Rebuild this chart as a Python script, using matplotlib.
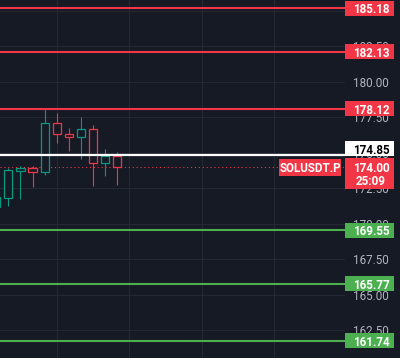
import matplotlib
matplotlib.use('Agg')
import matplotlib.pyplot as plt
from matplotlib.patches import Rectangle
from matplotlib.transforms import blended_transform_factory
from matplotlib.ticker import FormatStrFormatter

plt.rcParams['font.family'] = ['Roboto', 'DejaVu Sans']

# candles, oldest first
opens  = [171.18, 171.83, 173.74, 173.93, 173.62, 177.08, 176.32, 176.09, 176.65, 174.26, 174.77]
highs  = [171.95, 173.95, 174.07, 174.07, 178.13, 177.82, 176.72, 177.54, 176.96, 175.26, 175.07]
lows   = [171.05, 171.25, 171.72, 172.61, 173.43, 175.67, 175.14, 174.56, 172.66, 173.38, 172.73]
closes = [171.88, 173.78, 173.91, 173.62, 177.08, 176.30, 176.09, 176.65, 174.26, 174.77, 174.00]

resistance = [185.18, 182.13, 178.12]
support = [169.55, 165.77, 161.74]
mark_price = 174.85
last_price = 174.00
symbol = 'SOLUSDT.P'
countdown = '25:09'
price_ticks = [162.5, 165.0, 167.5, 170.0, 172.5, 175.0, 177.5, 180.0, 182.5, 185.0]
time_grid = [5, 11, 17, 23]

BG = '#161a25'
GRID = '#242833'
UP = '#089981'
DN = '#f23645'
RED = '#f23645'
GREEN = '#4caf50'

W, H = 400, 358
fig = plt.figure(figsize=(W / 100, H / 100), dpi=100, facecolor=BG)
ax = fig.add_axes([0, 0, 345 / W, 1])
ax.set_facecolor(BG)
ax.set_xlim(0.31, 28.83)
ax.set_ylim(160.54, 185.77)
for s in ax.spines.values():
    s.set_visible(False)

# grid
ax.set_yticks(price_ticks)
ax.set_xticks(time_grid)
ax.yaxis.set_major_formatter(FormatStrFormatter('%.2f'))
ax.yaxis.tick_right()
ax.tick_params(axis='y', length=0, pad=6, labelcolor='#b2b5be', labelsize=8.4)
ax.tick_params(axis='x', length=0, labelbottom=False)
ax.grid(color=GRID, lw=0.8)
ax.set_axisbelow(True)

# candles
for i, (o, h, l, c) in enumerate(zip(opens, highs, lows, closes)):
    col = UP if c >= o else DN
    ax.vlines(i, l, h, color=col, lw=0.8, zorder=3)
    ax.add_patch(Rectangle((i - 0.34, min(o, c)), 0.68, abs(c - o),
                           facecolor=BG, edgecolor=col, lw=0.9, zorder=4))

# levels
for p in resistance:
    ax.axhline(p, color=RED, lw=1.5, zorder=5)
for p in support:
    ax.axhline(p, color=GREEN, lw=1.5, zorder=5)
ax.axhline(mark_price, color='white', lw=1.6, zorder=5)
ax.axhline(last_price, color=RED, lw=0.8, ls=(0, (1, 2.5)), zorder=2)

# price tags on the right
ppx = (185.77 - 160.54) / H
tr = blended_transform_factory(fig.transFigure, ax.transData)


def tag(yc, h_px, face, x0=345, x1=394):
    h = h_px * ppx
    ax.add_patch(Rectangle((x0 / W, yc - h / 2), (x1 - x0) / W, h, transform=tr,
                           facecolor=face, edgecolor='none', clip_on=False, zorder=10))


def tag_text(yc, text, fg, xc=371):
    ax.text(xc / W, yc, text, transform=tr, color=fg, ha='center', va='center_baseline',
            fontsize=8.4, fontweight='bold', zorder=11, clip_on=False)


for p in resistance:
    tag(p, 15, RED)
    tag_text(p, '%.2f' % p, 'white')
for p in support:
    tag(p, 15, GREEN)
    tag_text(p, '%.2f' % p, 'white')

tag(mark_price + 6 * ppx, 15, 'white')
tag_text(mark_price + 6 * ppx, '%.2f' % mark_price, 'black')

tag(last_price - 6.8 * ppx, 31, RED)
tag_text(last_price, '%.2f' % last_price, 'white')
tag_text(last_price - 13.3 * ppx, countdown, 'white')

tag(last_price - 0.6 * ppx, 16.5, RED, x0=279, x1=341)
tag_text(last_price, symbol, 'white', xc=310)

fig.savefig('out.png', dpi=100, facecolor=BG)
